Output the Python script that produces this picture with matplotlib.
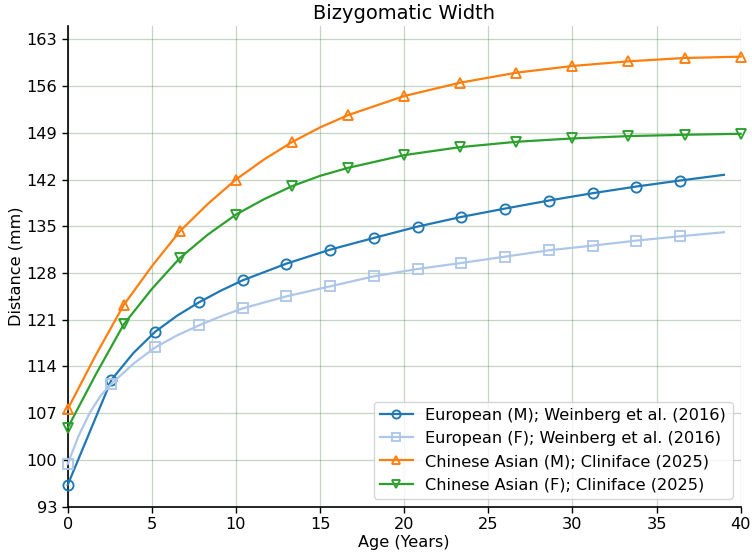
import matplotlib
matplotlib.use("Agg")
import matplotlib.pyplot as plt

# European (M); Weinberg et al. (2016)
eu_m_age = [0.0, 2.6, 3.9, 5.2, 6.5, 7.8, 9.1, 10.4, 13.0, 15.6, 18.2, 20.8, 23.4, 26.0, 28.6, 31.2, 33.8, 36.4, 39.0]
eu_m_val = [96.25, 112.0, 116.0, 119.2, 121.6, 123.6, 125.35, 126.9, 129.4, 131.5, 133.25, 134.95, 136.4, 137.65, 138.85, 139.95, 140.95, 141.85, 142.7]
eu_m_marks = [0, 1, 3, 5, 7, 8, 9, 10, 11, 12, 13, 14, 15, 16, 17]

# European (F); Weinberg et al. (2016)
eu_f_age = [0.0, 0.65, 1.3, 1.95, 2.6, 3.9, 5.2, 6.5, 7.8, 9.1, 10.4, 13.0, 15.6, 18.2, 20.8, 23.4, 26.0, 28.6, 31.2, 33.8, 36.4, 39.0]
eu_f_val = [99.4, 103.6, 107.0, 109.6, 111.4, 114.4, 116.85, 118.65, 120.15, 121.5, 122.7, 124.5, 126.0, 127.5, 128.6, 129.5, 130.45, 131.4, 132.1, 132.85, 133.5, 134.1]
eu_f_marks = [0, 4, 6, 8, 10, 11, 12, 13, 14, 15, 16, 17, 18, 19, 20]

# Chinese Asian (M); Cliniface (2025)
cn_m_age = [0.0, 1.67, 3.33, 5.0, 6.67, 8.33, 10.0, 11.67, 13.33, 15.0, 16.67, 20.0, 23.33, 26.67, 30.0, 33.33, 36.67, 40.0]
cn_m_val = [107.6, 115.7, 123.2, 129.0, 134.25, 138.35, 142.0, 145.0, 147.6, 149.8, 151.65, 154.5, 156.5, 158.0, 159.0, 159.7, 160.2, 160.4]
cn_m_marks = [0, 2, 4, 6, 8, 10, 11, 12, 13, 14, 15, 16, 17]

# Chinese Asian (F); Cliniface (2025)
cn_f_age = [0.0, 1.67, 3.33, 5.0, 6.67, 8.33, 10.0, 11.67, 13.33, 15.0, 16.67, 20.0, 23.33, 26.67, 30.0, 33.33, 36.67, 40.0]
cn_f_val = [104.8, 112.8, 120.3, 125.6, 130.25, 133.75, 136.75, 139.05, 141.0, 142.55, 143.75, 145.65, 146.85, 147.65, 148.15, 148.5, 148.7, 148.85]
cn_f_marks = [0, 2, 4, 6, 8, 10, 11, 12, 13, 14, 15, 16, 17]

y_ticks = [93, 100, 107, 114, 121, 128, 135, 142, 149, 156, 163]
x_ticks = [0, 5, 10, 15, 20, 25, 30, 35, 40]

s = 1.16
fig = plt.figure(figsize=(7.52, 5.59), dpi=100)
ax = fig.add_axes([0.090, 0.0936, 0.895, 0.86])

series = [
    (eu_m_age, eu_m_val, eu_m_marks, "#1f77b4", "o", "European (M); Weinberg et al. (2016)"),
    (eu_f_age, eu_f_val, eu_f_marks, "#aec7e8", "s", "European (F); Weinberg et al. (2016)"),
    (cn_m_age, cn_m_val, cn_m_marks, "#ff7f0e", "^", "Chinese Asian (M); Cliniface (2025)"),
    (cn_f_age, cn_f_val, cn_f_marks, "#2ca02c", "v", "Chinese Asian (F); Cliniface (2025)"),
]
for xa, ya, mk, col, m, lab in series:
    ax.plot(xa, ya, color=col, marker=m, markevery=mk, markersize=6.3 * s,
            markerfacecolor="none", markeredgewidth=1.35, linewidth=1.6,
            label=lab, clip_on=False, zorder=3)

ax.set_xlim(0, 40)
ax.set_ylim(93, 165)
ax.set_xticks(x_ticks)
ax.set_yticks(y_ticks)
ax.tick_params(labelsize=10 * s, width=1.0, length=4)
ax.grid(True, color="#2f6f2f", alpha=0.28, linewidth=0.9)
ax.set_axisbelow(True)
for sp in ["top", "right"]:
    ax.spines[sp].set_visible(False)
for sp in ["left", "bottom"]:
    ax.spines[sp].set_linewidth(1.2)

ax.set_title("Bizygomatic Width", fontsize=12 * s, pad=5)
ax.set_xlabel("Age (Years)", fontsize=10 * s, labelpad=2)
ax.set_ylabel("Distance (mm)", fontsize=10 * s, labelpad=2)
ax.legend(loc="lower right", fontsize=10 * s, markerscale=0.8)

fig.savefig("out.png", dpi=100)
